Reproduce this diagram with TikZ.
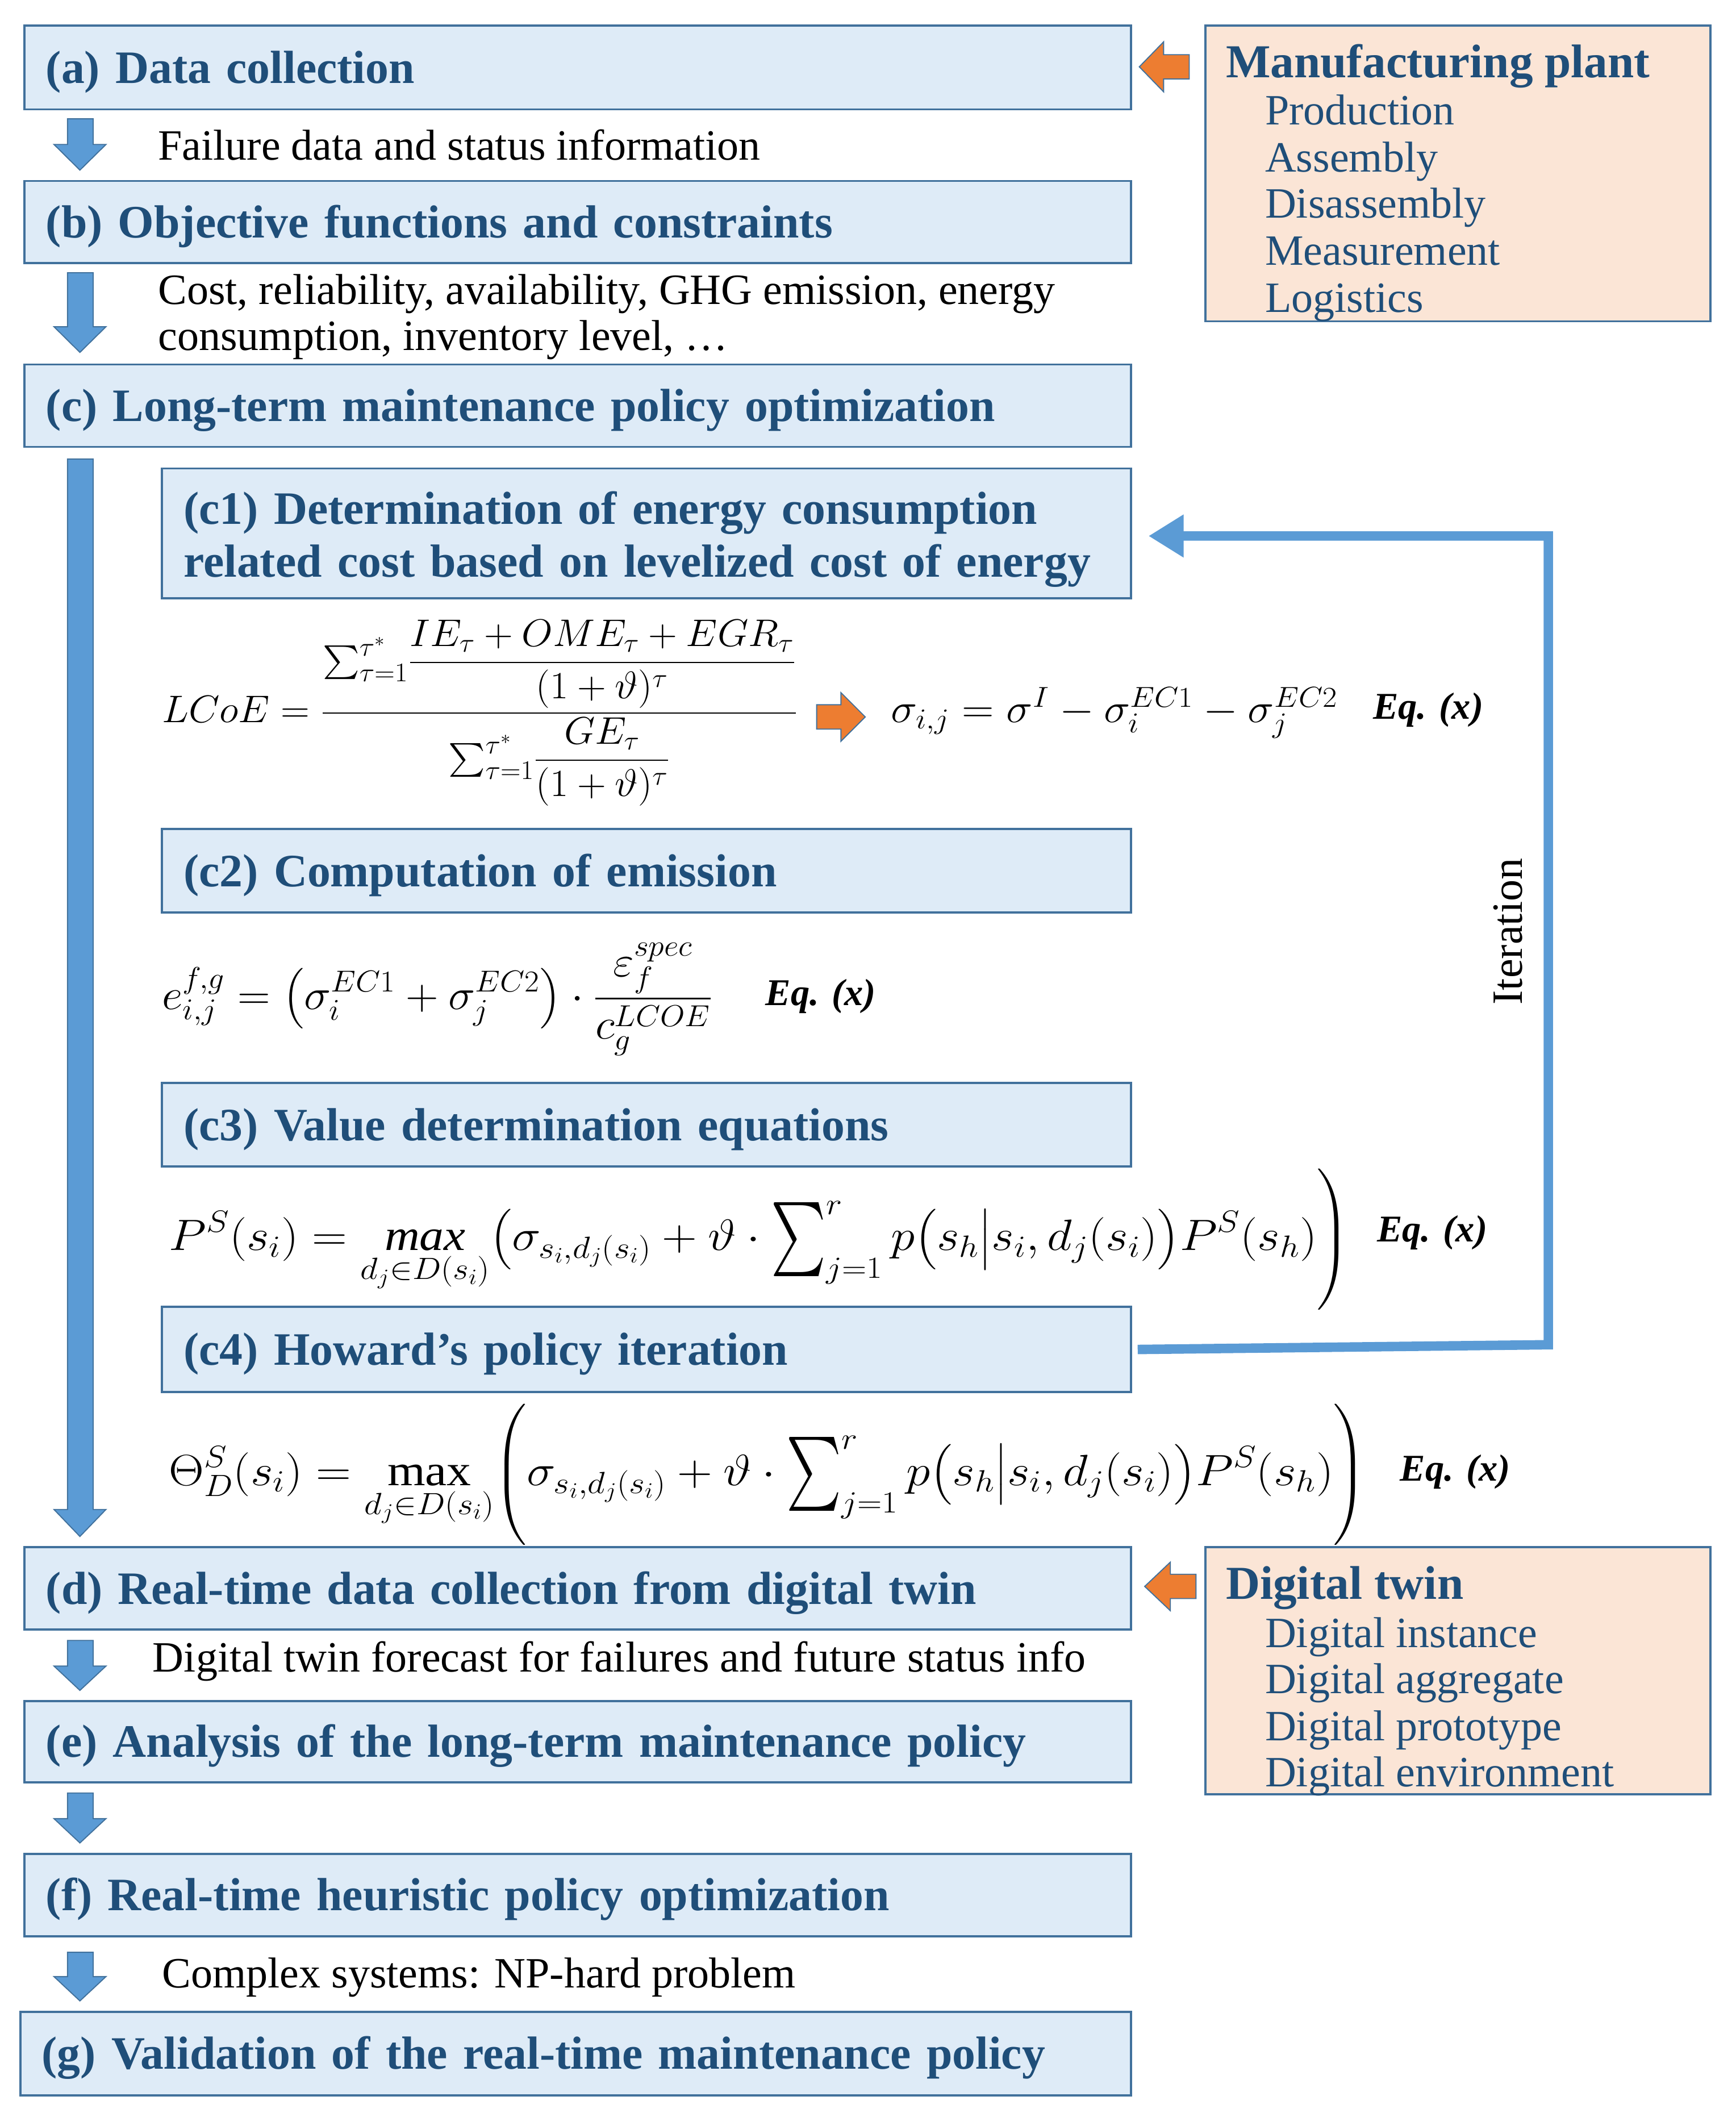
\RequirePackage{fix-cm}
\documentclass[tikz,border=0pt]{standalone}
\usepackage{amsmath}
\usepackage{graphicx}
\usepackage{fontspec}
\setmainfont{Liberation Serif}
\usetikzlibrary{arrows.meta}
\definecolor{boxfill}{RGB}{222,235,247}
\definecolor{boxline}{RGB}{65,113,156}
\definecolor{titleblue}{RGB}{31,78,121}
\definecolor{arrowblue}{RGB}{91,155,213}
\definecolor{orangeA}{RGB}{237,125,49}
\definecolor{peach}{RGB}{251,229,214}
\newcommand\mytitlefont{\fontsize{34.4}{39}\selectfont\bfseries}
\newcommand\mybodyfont{\fontsize{32}{34.5}\selectfont}
\newcommand\bigsum{\mathop{\vcenter{\hbox{\scalebox{1.4}[2.2]{$\textstyle\sum$}}}}\nolimits}
\newcommand\blockdown[3]{\filldraw[blockarrow] (50,#1) -- (69,#1) -- (69,#2) -- (78.5,#2) -- (59.2,#3) -- (40,#2) -- (50,#2) -- cycle;}
\tikzset{
  bluebox/.style={draw=boxline, line width=1.6pt, fill=boxfill, text=titleblue,
    font=\mytitlefont, inner xsep=16pt, inner ysep=0pt, align=left,
    text height=29.3pt, text depth=6.1pt},
  peachbox/.style={draw=boxline, line width=1.6pt, fill=peach},
  blockarrow/.style={fill=arrowblue, draw=boxline, line width=0.8pt},
  orangearrow/.style={fill=orangeA, draw=boxline, line width=0.8pt},
  bodytext/.style={font=\mybodyfont, text=black, inner sep=0pt},
  itemtext/.style={font=\mybodyfont, text=titleblue, inner sep=0pt, anchor=mid west},
  headtext/.style={font=\fontsize{35}{39}\selectfont\bfseries, text=titleblue, inner sep=0pt, anchor=mid west},
  eqtext/.style={inner sep=0pt, anchor=west},
  eqlabel/.style={font=\fontsize{28}{34}\selectfont\bfseries\itshape, inner sep=0pt, anchor=west},
  iterline/.style={draw=arrowblue, line width=7pt, -{Triangle[length=26pt,width=30pt]}}
}
\begin{document}
\begin{tikzpicture}[x=1pt,y=-1pt]
\fill[white] (0,0) rectangle (1286,1568);
\useasboundingbox (0,0) rectangle (1286,1568);

% main boxes
\node[bluebox, minimum height=62pt, text width=788pt] (a) at (428,50) {(a) Data collection};
\node[bluebox, minimum height=61pt, text width=788pt] (b) at (428,164.5) {(b) Objective functions and constraints};
\node[bluebox, minimum height=61pt, text width=788pt] (c) at (428,300.5) {(c) Long-term maintenance policy optimization};
\node[bluebox, minimum height=96pt, text width=686pt, text height=31.5pt, text depth=45.2pt] (c1) at (479,395) {(c1) Determination of energy consumption\\related cost based on levelized cost of energy};
\node[bluebox, minimum height=62pt, text width=686pt] (c2) at (479,645) {(c2) Computation of emission};
\node[bluebox, minimum height=62pt, text width=686pt] (c3) at (479,833) {(c3) Value determination equations};
\node[bluebox, minimum height=63pt, text width=686pt] (c4) at (479,999.5) {(c4) Howard’s policy iteration};
\node[bluebox, minimum height=61pt, text width=788pt] (d) at (428,1176.5) {(d) Real-time data collection from digital twin};
\node[bluebox, minimum height=60pt, text width=788pt] (e) at (428,1290) {(e) Analysis of the long-term maintenance policy};
\node[bluebox, minimum height=61pt, text width=788pt] (f) at (428,1403.5) {(f) Real-time heuristic policy optimization};
\node[bluebox, minimum height=62pt, text width=791pt] (g) at (426.5,1521) {(g) Validation of the real-time maintenance policy};

% side boxes
\node[peachbox, minimum width=374pt, minimum height=219pt] (mp) at (1080,128.5) {};
\node[headtext] (mph) at (908,55) {Manufacturing plant};
\node[itemtext] (mp1) at (937,90) {Production};
\node[itemtext] (mp2) at (937,125) {Assembly};
\node[itemtext] (mp3) at (937,159) {Disassembly};
\node[itemtext] (mp4) at (937,194) {Measurement};
\node[itemtext] (mp5) at (937,229) {Logistics};

\node[peachbox, minimum width=374pt, minimum height=183pt] (dt) at (1080,1237.5) {};
\node[headtext] (dth) at (908,1182) {Digital twin};
\node[itemtext] (dt1) at (937,1218) {Digital instance};
\node[itemtext] (dt2) at (937,1252) {Digital aggregate};
\node[itemtext] (dt3) at (937,1287) {Digital prototype};
\node[itemtext] (dt4) at (937,1321) {Digital environment};

% blue block arrows
\blockdown{88}{107}{126}
\blockdown{202}{242}{261}
\blockdown{340}{1118}{1138}
\blockdown{1215}{1234}{1252}
\blockdown{1328}{1347}{1365}
\blockdown{1446}{1464}{1482}

% orange arrows
\filldraw[orangearrow] (881,40.5) -- (862,40.5) -- (862,31) -- (844,49.5) -- (862,68) -- (862,58.5) -- (881,58.5) -- cycle;
\filldraw[orangearrow] (886,1166) -- (867,1166) -- (867,1157) -- (848,1175) -- (867,1193) -- (867,1184) -- (886,1184) -- cycle;
\filldraw[orangearrow] (605,522) -- (623,522) -- (623,513) -- (641,531) -- (623,549) -- (623,540) -- (605,540) -- cycle;

% labels between boxes
\node[bodytext, anchor=mid west] (t1) at (117,116) {Failure data and status information};
\node[bodytext, anchor=mid west] (t2) at (117,223) {Cost, reliability, availability, GHG emission, energy};
\node[bodytext, anchor=mid west] (t3) at (117,257) {consumption, inventory level, \ldots};
\node[bodytext, anchor=mid west] (t4) at (113,1236) {Digital twin forecast for failures and future status info};
\node[bodytext, anchor=mid west] (t5) at (120,1470) {Complex systems: NP-hard problem};

% equations
\node[eqtext, font=\fontsize{28.5}{34}\selectfont] (eq1) at (120,528) {\scalebox{1.04}[1]{$\displaystyle LCoE = \frac{{\textstyle\sum_{\tau=1}^{\tau^*}}\dfrac{IE_\tau + OME_\tau + EGR_\tau}{(1+\vartheta)^\tau}}{{\textstyle\sum_{\tau=1}^{\tau^*}}\dfrac{GE_\tau}{(1+\vartheta)^\tau}}$}};
\node[eqtext, font=\fontsize{30.5}{36}\selectfont] (eq2) at (660,528) {\scalebox{1.08}[1]{$\sigma_{i,j} = \sigma^I - \sigma_i^{EC1} - \sigma_j^{EC2}$}};
\node[eqlabel] (eq2l) at (1017,526) {Eq. (x)};

\node[eqtext, font=\fontsize{32}{38}\selectfont] (eq3) at (120,740) {\scalebox{1.05}[1]{$\displaystyle e_{i,j}^{f,g} = \left(\sigma_i^{EC1} + \sigma_j^{EC2}\right)\cdot\frac{\varepsilon_f^{spec}}{c_g^{LCOE}}$}};
\node[eqlabel] (eq3l) at (567,738) {Eq. (x)};

\node[eqtext, font=\fontsize{32.5}{38}\selectfont] (eq4) at (125,918) {\scalebox{1.108}[1]{$\displaystyle P^S(s_i) = \mathop{\mathit{max}}\limits_{d_j\in D(s_i)}\bigl(\sigma_{s_i,d_j(s_i)} + \vartheta\cdot\bigsum_{j=1}^{r} p\bigl(s_h\big|s_i,d_j(s_i)\bigr)P^S(s_h)\Biggr)$}};
\node[eqlabel] (eq4l) at (1020,913) {Eq. (x)};

\node[eqtext, font=\fontsize{32.5}{38}\selectfont] (eq5) at (125,1092) {\scalebox{1.11}[1]{$\displaystyle \Theta_D^S(s_i) = \max\limits_{d_j\in D(s_i)}\Biggl(\sigma_{s_i,d_j(s_i)} + \vartheta\cdot\bigsum_{j=1}^{r} p\bigl(s_h\big|s_i,d_j(s_i)\bigr)P^S(s_h)\Biggr)$}};
\node[eqlabel] (eq5l) at (1037,1090) {Eq. (x)};

% iteration loop
\coordinate (itA) at (1147,996);
\coordinate (itB) at (1147,397);
\coordinate (itC) at ([xshift=12pt]c1.east);
\coordinate (itS) at ([xshift=4pt]c4.east);
\draw[iterline] (itS) -- (itA) -- (itB) -- (itC |- itB);
\node[bodytext, rotate=90] (it) at (1117,690) {Iteration};
\end{tikzpicture}
\end{document}
